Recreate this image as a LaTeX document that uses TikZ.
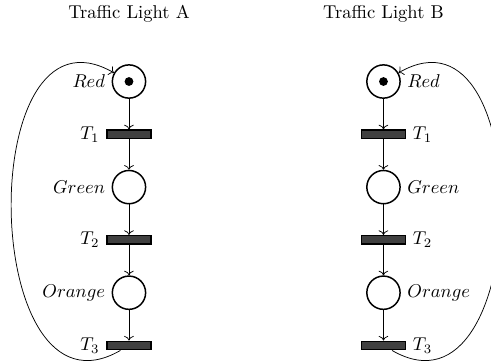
\documentclass[tikz,border=0pt]{standalone}
\usepackage{amsmath}
\usepackage{tikz}
\usetikzlibrary{arrows.meta, positioning}

\begin{document}
\begin{tikzpicture}[
    node distance=1cm,
    on grid,
    place/.style={circle, draw, thick, minimum size=6.3mm},
    transition/.style={rectangle, draw, thick, fill=black!75, minimum width=8.4mm, minimum height=1.6mm, inner sep=0pt},
    tokendot/.style={circle, fill=black, inner sep=0pt, minimum size=1.1ex},
    line/.style={->},
    loopback/.style={->, looseness=1.5}
]
\useasboundingbox (-2.443,1.544) rectangle ++(9.3,-6.875);

% Traffic light A
\node[place, label=left:$Red$] (redA) {};
\node[above=1.29cm of redA] (titleA) {Traffic Light A};
\node[tokendot] (dotA) at (redA) {};
\node[transition, below=of redA, label=left:$T_1$] (t1A) {};
\node[place, below=of t1A, label=left:$Green$] (greenA) {};
\node[transition, below=of greenA, label=left:$T_2$] (t2A) {};
\node[place, below=of t2A, label=left:$Orange$] (orangeA) {};
\node[transition, below=of orangeA, label=left:$T_3$] (t3A) {};

% Traffic light B
\node[place, right=4.82cm of redA, label=right:$Red$] (redB) {};
\node[above=1.29cm of redB] (titleB) {Traffic Light B};
\node[tokendot] (dotB) at (redB) {};
\node[transition, below=of redB, label=right:$T_1$] (t1B) {};
\node[place, below=of t1B, label=right:$Green$] (greenB) {};
\node[transition, below=of greenB, label=right:$T_2$] (t2B) {};
\node[place, below=of t2B, label=right:$Orange$] (orangeB) {};
\node[transition, below=of orangeB, label=right:$T_3$] (t3B) {};

% Connections
\draw[line] (redA) -- (t1A);
\draw[line] (t1A) -- (greenA);
\draw[line] (greenA) -- (t2A);
\draw[line] (t2A) -- (orangeA);
\draw[line] (orangeA) -- (t3A);
\draw[loopback] (t3A) to[out=210, in=150] (redA);

\draw[line] (redB) -- (t1B);
\draw[line] (t1B) -- (greenB);
\draw[line] (greenB) -- (t2B);
\draw[line] (t2B) -- (orangeB);
\draw[line] (orangeB) -- (t3B);
\draw[loopback] (t3B) to[out=-30, in=30] (redB);

\end{tikzpicture}
\end{document}
